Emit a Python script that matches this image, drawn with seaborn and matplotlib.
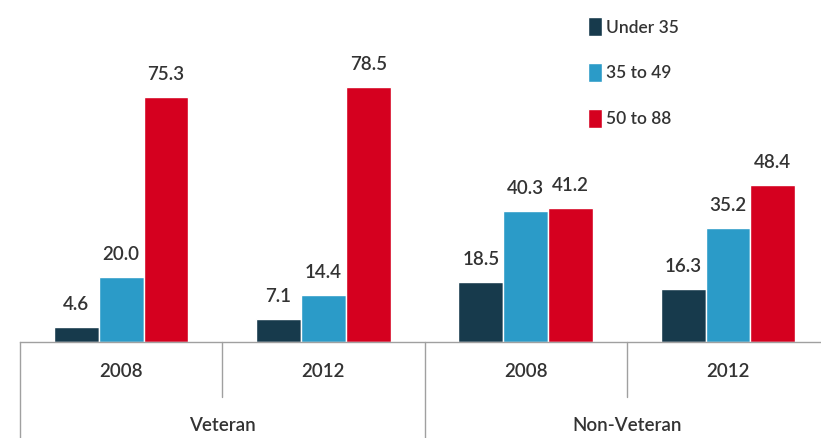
import pandas as pd
import numpy as np
import matplotlib.pyplot as plt
import seaborn as sns

# Daten
groups = ["Veteran", "Veteran", "Non-Veteran", "Non-Veteran"]
years = ["2008", "2012", "2008", "2012"]
ages = ["Under 35", "35 to 49", "50 to 88"]
under35 = [4.6, 7.1, 18.5, 16.3]
age35_49 = [20.0, 14.4, 40.3, 35.2]
age50_88 = [75.3, 78.5, 41.2, 48.4]

colors = ["#173a4c", "#2b9bc8", "#d5001f"]

cats = [g + " " + y for g, y in zip(groups, years)]
df = pd.DataFrame({
    "cat": cats * 3,
    "age": np.repeat(ages, 4),
    "val": under35 + age35_49 + age50_88,
})

sns.set_style("white")
plt.rcParams["font.family"] = ["Lato", "DejaVu Sans"]

fig = plt.figure(figsize=(8.21, 4.38), dpi=100)
ax = fig.add_axes([20 / 821, 96 / 438, 801 / 821, 342 / 438])

sns.barplot(data=df, x="cat", y="val", hue="age", palette=colors,
            width=0.665, saturation=1, ax=ax, legend=True)

for c in ax.containers:
    ax.bar_label(c, fmt="%.1f", padding=10, fontsize=13.5, color="#333333",
                 fontweight="semibold")

ax.set_xlim(-0.5, 3.46)
ax.set_ylim(0, 105.2)
ax.set_xlabel("")
ax.set_ylabel("")
ax.set_xticks([])
ax.set_yticks([])
for s in ["top", "right", "left"]:
    ax.spines[s].set_visible(False)
ax.spines["bottom"].set_color("#a0a0a0")
ax.spines["bottom"].set_linewidth(1)

# Achsenbeschriftung unten
trans = ax.get_xaxis_transform()
for i, y in enumerate(years):
    ax.text(i, -0.085, y, transform=trans, ha="center", va="center",
            fontsize=13.5, color="#333333", fontweight="semibold")
ax.text(0.5, -0.245, "Veteran", transform=trans, ha="center", va="center",
        fontsize=13.5, color="#333333", fontweight="semibold")
ax.text(2.5, -0.245, "Non-Veteran", transform=trans, ha="center", va="center",
        fontsize=13.5, color="#333333", fontweight="semibold")

# Trennlinien
for x, ymin in [(-0.5, -0.4), (0.5, -0.16), (1.5, -0.4), (2.5, -0.16)]:
    ax.plot([x, x], [0, ymin], transform=trans, color="#a0a0a0",
            lw=1, clip_on=False)

# Legende
handles, labels = ax.get_legend_handles_labels()
leg = ax.legend(handles, labels, loc="upper left", bbox_to_anchor=(0.69, 0.995),
                frameon=False, fontsize=12.5, handlelength=0.8, handleheight=1.3,
                handletextpad=0.2, labelspacing=1.55, labelcolor="#333333")
for t in leg.get_texts():
    t.set_fontweight("semibold")

fig.savefig("out.png", dpi=100)
